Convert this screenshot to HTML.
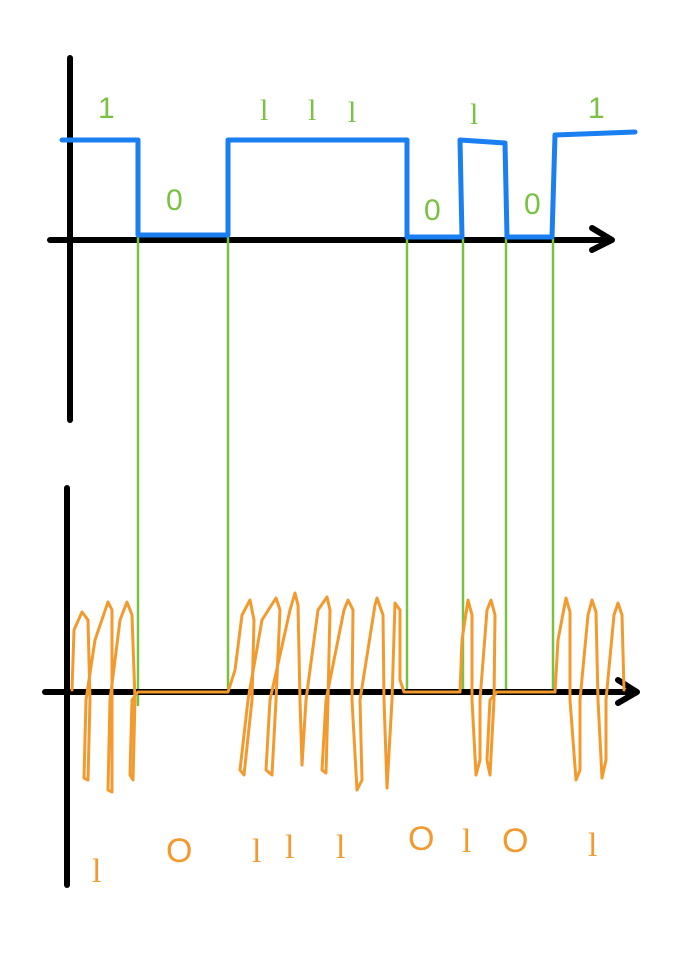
<!DOCTYPE html>
<html><head><style>body{margin:0;background:#fff}svg{display:block}</style></head>
<body>
<svg width="700" height="961" viewBox="0 0 700 961" xmlns="http://www.w3.org/2000/svg">
<g stroke-linecap="round" stroke-linejoin="round" fill="none">
<line x1="70" y1="58" x2="70" y2="420" stroke="#000" stroke-width="6"/>
<line x1="50" y1="240" x2="610" y2="240" stroke="#000" stroke-width="6"/>
<path d="M592 228 L612 240 L592 250" stroke="#000" stroke-width="6"/>
<g stroke="#7ac143" stroke-width="2.5">
<line x1="138" y1="235" x2="138" y2="705"/>
<line x1="228" y1="235" x2="228" y2="692"/>
<line x1="407" y1="237" x2="407" y2="692"/>
<line x1="463" y1="237" x2="463" y2="692"/>
<line x1="506" y1="237" x2="506" y2="692"/>
<line x1="553" y1="237" x2="553" y2="692"/>
</g>
<path d="M62 140 L138 140 L138 235 L228 235 L228 140 L407 140 L407 237 L462 237 L460 140 L505 143 L507 237 L552 237 L555 135 L635 132" stroke="#1a7ff0" stroke-width="5"/>
<line x1="67" y1="488" x2="67" y2="885" stroke="#000" stroke-width="6"/>
<line x1="45" y1="692" x2="635" y2="692" stroke="#000" stroke-width="6"/>
<path d="M618 680 L637 692 L618 703" stroke="#000" stroke-width="6"/>
<g stroke="#f29a2e" stroke-width="3">
<path d="M72 690 L74 630 L82 612 L88 620 L90 700 L88 780 L84 778 L86 700 L95 640 L108 602 L112 610 L112 700 L112 792 L108 790 L110 700 L120 620 L127 602 L132 615 L135 700 L133 780 L130 775 L132 700 L138 692 L228 692 L235 670 L242 615 L250 600 L254 620 L252 700 L244 775 L240 770 L248 700 L262 620 L276 598 L280 610 L276 700 L272 775 L266 770 L270 700 L290 610 L295 593 L298 605 L300 700 L302 765 L306 700 L318 610 L327 597 L330 610 L328 700 L326 773 L322 770 L326 700 L344 610 L348 600 L353 610 L352 700 L357 790 L362 780 L360 700 L375 605 L377 598 L383 615 L384 700 L387 788 L392 700 L395 603 L400 610 L400 680 L404 692 L460 692 L462 640 L468 600 L472 615 L472 700 L476 775 L480 760 L480 700 L487 610 L491 600 L495 615 L494 700 L490 775 L487 760 L490 700 L497 692 L555 692 L558 640 L566 598 L570 612 L570 700 L576 780 L580 770 L580 700 L588 615 L592 600 L596 612 L598 700 L602 778 L606 760 L606 700 L614 615 L618 603 L622 615 L624 690"/>
</g>
</g>
<g font-family="Liberation Sans, sans-serif">
<g fill="#7ac143" font-size="30">
<text x="98" y="118">1</text>
<text x="166" y="210">0</text>
<text x="424" y="220">0</text>
<text x="524" y="214">0</text>
<text x="588" y="118">1</text>
</g>
<g fill="#7ac143" font-size="30" font-family="Liberation Serif, serif">
<text x="260" y="120">l</text>
<text x="308" y="120">l</text>
<text x="348" y="122">l</text>
<text x="470" y="124">l</text>
</g>
<g fill="#f29a2e" font-size="34">
<text x="166" y="862">O</text>
<text x="408" y="850">O</text>
<text x="502" y="852">O</text>
</g>
<g fill="#f29a2e" font-size="34" font-family="Liberation Serif, serif">
<text x="92" y="882">l</text>
<text x="252" y="862">l</text>
<text x="285" y="858">l</text>
<text x="336" y="858">l</text>
<text x="462" y="852">l</text>
<text x="588" y="856">l</text>
</g>
</g>
</svg>
</body></html>
